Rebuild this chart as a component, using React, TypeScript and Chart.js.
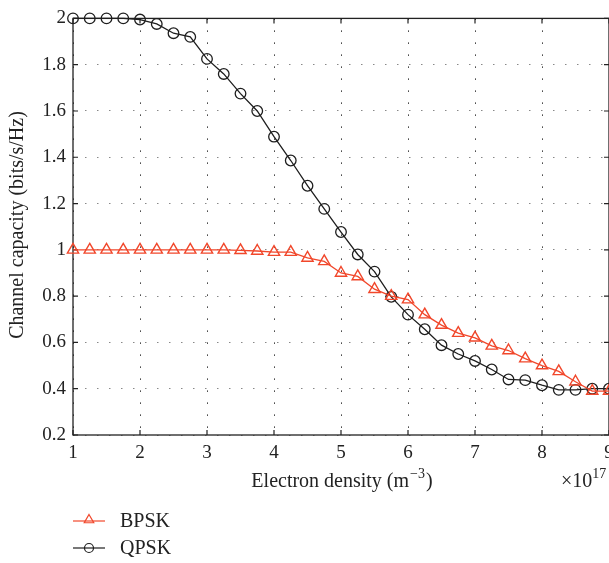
import React, { useEffect, useRef } from "react";
import { Chart, registerables } from "chart.js";

Chart.register(...registerables);

// ---- data ----
const xValues = [
  1, 1.25, 1.5, 1.75, 2, 2.25, 2.5, 2.75, 3, 3.25, 3.5, 3.75, 4, 4.25, 4.5, 4.75,
  5, 5.25, 5.5, 5.75, 6, 6.25, 6.5, 6.75, 7, 7.25, 7.5, 7.75, 8, 8.25, 8.5, 8.75, 9,
];
const bpskValues = [
  1.0, 1.0, 1.0, 1.0, 1.0, 1.0, 1.0, 1.0, 1.0, 1.0, 0.998, 0.995, 0.99, 0.99, 0.965, 0.95,
  0.9, 0.885, 0.83, 0.8, 0.785, 0.72, 0.675, 0.64, 0.62, 0.585, 0.565, 0.53, 0.5, 0.475, 0.43, 0.39, 0.39,
];
const qpskValues = [
  2.0, 2.0, 2.0, 2.0, 1.995, 1.976, 1.936, 1.92, 1.825, 1.76, 1.675, 1.6, 1.489, 1.386, 1.277, 1.177,
  1.077, 0.98, 0.906, 0.797, 0.72, 0.657, 0.588, 0.55, 0.52, 0.483, 0.44, 0.437, 0.415, 0.395, 0.395, 0.4, 0.4,
];
const xTickValues = [1, 2, 3, 4, 5, 6, 7, 8, 9];
const yTickValues = [0.2, 0.4, 0.6, 0.8, 1, 1.2, 1.4, 1.6, 1.8, 2];
const seriesNames = ["BPSK", "QPSK"];
const xTitle = "Electron density (m";
const xTitleSup = "\u22123";
const xTitleEnd = ")";
const yTitle = "Channel capacity (bits/s/Hz)";
const exponentBase = "\u00d710";
const exponentSup = "17";

const FONT = "'Liberation Serif', 'Times New Roman', serif";
const RED = "#f1472b";
const BLACK = "#1e1e1e";
const TEXT = "#222222";

function drawTriangle(ctx: CanvasRenderingContext2D, x: number, y: number, r: number) {
  ctx.beginPath();
  ctx.moveTo(x, y - r);
  ctx.lineTo(x + 0.866 * r, y + 0.5 * r);
  ctx.lineTo(x - 0.866 * r, y + 0.5 * r);
  ctx.closePath();
  ctx.stroke();
}
function drawCircle(ctx: CanvasRenderingContext2D, x: number, y: number, r: number) {
  ctx.beginPath();
  ctx.arc(x, y, r, 0, Math.PI * 2);
  ctx.stroke();
}

const framePlugin = {
  id: "frameTicks",
  beforeDatasetsDraw(chart: any) {
    const { ctx, chartArea: a, scales } = chart;
    ctx.save();
    ctx.strokeStyle = "#222";
    ctx.lineWidth = 1.3;
    ctx.strokeRect(a.left, a.top, a.right - a.left, a.bottom - a.top);
    ctx.lineWidth = 1.2;
    const L = 5;
    ctx.beginPath();
    for (const v of xTickValues) {
      const px = scales.x.getPixelForValue(v);
      ctx.moveTo(px, a.bottom);
      ctx.lineTo(px, a.bottom - L);
      ctx.moveTo(px, a.top);
      ctx.lineTo(px, a.top + L);
    }
    for (const v of yTickValues) {
      const py = scales.y.getPixelForValue(v);
      ctx.moveTo(a.left, py);
      ctx.lineTo(a.left + L, py);
      ctx.moveTo(a.right, py);
      ctx.lineTo(a.right - L, py);
    }
    ctx.stroke();
    ctx.restore();
  },
  afterDraw(chart: any) {
    const { ctx, chartArea: a } = chart;
    ctx.save();
    ctx.fillStyle = TEXT;
    ctx.textBaseline = "middle";
    // x title
    ctx.font = `20px ${FONT}`;
    const w1 = ctx.measureText(xTitle).width;
    ctx.font = `14px ${FONT}`;
    const w2 = ctx.measureText(xTitleSup).width;
    ctx.font = `20px ${FONT}`;
    const w3 = ctx.measureText(xTitleEnd).width;
    const cx = (a.left + a.right) / 2 + 0;
    let sx = cx - (w1 + w2 + w3) / 2;
    const ty = 482;
    ctx.textAlign = "left";
    ctx.fillText(xTitle, sx, ty);
    ctx.font = `14px ${FONT}`;
    ctx.fillText(xTitleSup, sx + w1 + 1, ty - 8);
    ctx.font = `20px ${FONT}`;
    ctx.fillText(xTitleEnd, sx + w1 + w2 + 2, ty);
    // exponent
    ctx.fillText(exponentBase, 561, ty);
    const wb = ctx.measureText(exponentBase).width;
    ctx.font = `14px ${FONT}`;
    ctx.fillText(exponentSup, 561 + wb, ty - 8);
    // y title
    ctx.font = `20px ${FONT}`;
    ctx.save();
    ctx.translate(18, 225);
    ctx.rotate(-Math.PI / 2);
    ctx.textAlign = "center";
    ctx.fillText(yTitle, 0, 0);
    ctx.restore();
    // legend
    const rows = [
      { y: 521, color: RED, marker: "tri" },
      { y: 548, color: BLACK, marker: "circ" },
    ];
    rows.forEach((r, i) => {
      ctx.strokeStyle = r.color;
      ctx.lineWidth = 1.2;
      ctx.beginPath();
      ctx.moveTo(73, r.y);
      ctx.lineTo(105, r.y);
      ctx.stroke();
      if (r.marker === "tri") drawTriangle(ctx, 89, r.y - 1, 5.5);
      else drawCircle(ctx, 89, r.y, 4.5);
      ctx.fillStyle = TEXT;
      ctx.font = `20px ${FONT}`;
      ctx.textAlign = "left";
      ctx.fillText(seriesNames[i], 120, r.y + 1);
    });
    ctx.restore();
  },
};

export default function App() {
  const ref = useRef<HTMLCanvasElement | null>(null);
  useEffect(() => {
    if (!ref.current) return;
    const chart = new Chart(ref.current, {
      type: "line",
      data: {
        datasets: [
          {
            label: seriesNames[0],
            data: xValues.map((x, i) => ({ x, y: bpskValues[i] })),
            borderColor: RED,
            backgroundColor: "rgba(0,0,0,0)",
            borderWidth: 1.3,
            pointStyle: "triangle",
            pointRadius: 6.5,
            pointBorderWidth: 1.4,
            pointBackgroundColor: "rgba(0,0,0,0)",
            pointBorderColor: RED,
            tension: 0,
            clip: false as any,
          },
          {
            label: seriesNames[1],
            data: xValues.map((x, i) => ({ x, y: qpskValues[i] })),
            borderColor: BLACK,
            backgroundColor: "rgba(0,0,0,0)",
            borderWidth: 1.3,
            pointStyle: "circle",
            pointRadius: 5.3,
            pointBorderWidth: 1.3,
            pointBackgroundColor: "rgba(0,0,0,0)",
            pointBorderColor: BLACK,
            tension: 0,
            clip: false as any,
          },
        ],
      },
      options: {
        responsive: false,
        animation: false,
        devicePixelRatio: 1,
        layout: { padding: { left: 0, top: 14, right: 31, bottom: 0 } },
        plugins: { legend: { display: false }, tooltip: { enabled: false } },
        scales: {
          x: {
            type: "linear",
            min: 1,
            max: 9,
            afterFit: (s: any) => {
              s.height = 128;
            },
            afterBuildTicks: (s: any) => {
              s.ticks = xTickValues.map((v) => ({ value: v }));
            },
            ticks: {
              font: { family: FONT, size: 19 },
              color: TEXT,
              padding: 7,
              maxRotation: 0,
              autoSkip: false,
            },
            grid: { color: "#3a3a3a", lineWidth: 1, drawTicks: false },
            border: { display: false, dash: [1.5, 10.5] },
          },
          y: {
            type: "linear",
            min: 0.2,
            max: 2,
            afterFit: (s: any) => {
              s.width = 73;
            },
            afterBuildTicks: (s: any) => {
              s.ticks = yTickValues.map((v) => ({ value: v }));
            },
            ticks: {
              font: { family: FONT, size: 19 },
              color: TEXT,
              padding: 7,
              callback: (v: any) => String(Number(Number(v).toFixed(1))),
            },
            grid: { color: "#888", lineWidth: 1, drawTicks: false },
            border: { display: false, dash: [1.5, 10.5] },
          },
        },
      } as any,
      plugins: [framePlugin],
    });
    return () => chart.destroy();
  }, []);
  return (
    <div
      style={{
        position: "fixed",
        left: 0,
        top: 0,
        width: 609,
        height: 563,
        overflow: "hidden",
        background: "#fff",
      }}
    >
      <canvas ref={ref} width={640} height={563} style={{ width: 640, height: 563, display: "block" }} />
    </div>
  );
}
